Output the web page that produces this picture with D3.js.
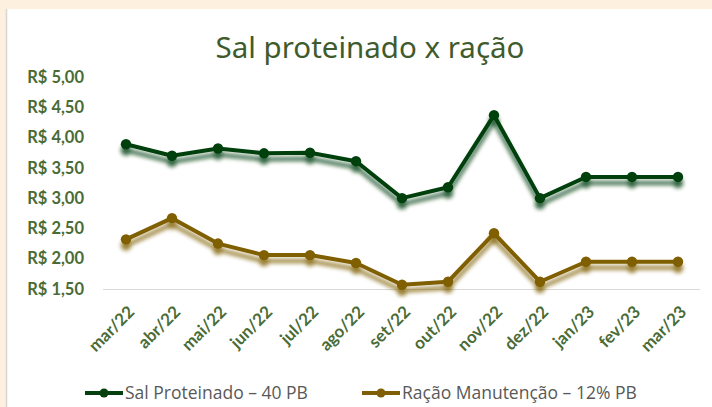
<!DOCTYPE html>
<html>
<head>
<meta charset="utf-8">
<script src="https://cdn.jsdelivr.net/npm/d3@7"></script>
<style>
  html, body { margin: 0; padding: 0; background: #fdf0df; }
  svg { display: block; }
</style>
</head>
<body>
<svg id="chart" width="712" height="407"></svg>
<script>
const categories = ["mar/22","abr/22","mai/22","jun/22","jul/22","ago/22","set/22","out/22","nov/22","dez/22","jan/23","fev/23","mar/23"];
const salProteinado = [3.89, 3.70, 3.82, 3.74, 3.75, 3.61, 3.00, 3.18, 4.37, 3.00, 3.35, 3.35, 3.35];
const racaoManutencao = [2.32, 2.67, 2.25, 2.06, 2.06, 1.93, 1.57, 1.62, 2.42, 1.62, 1.95, 1.95, 1.95];
const yTicks = [1.5, 2.0, 2.5, 3.0, 3.5, 4.0, 4.5, 5.0];
const seriesNames = ["Sal Proteinado – 40 PB", "Ração Manutenção – 12% PB"];
const seriesColors = ["#06400f", "#7f5e06"];

const svg = d3.select("#chart");
// panel
svg.append("rect").attr("x", 7).attr("y", 9).attr("width", 705).attr("height", 398).attr("fill", "#ffffff");
svg.append("line").attr("x1", 6.5).attr("x2", 6.5).attr("y1", 9).attr("y2", 407).attr("stroke", "#d9d6d2").attr("stroke-width", 1.5);

const defs = svg.append("defs");
const f = defs.append("filter").attr("id", "shadow").attr("x", "-10%").attr("y", "-30%").attr("width", "120%").attr("height", "160%");
f.append("feGaussianBlur").attr("in", "SourceGraphic").attr("stdDeviation", 2).attr("result", "b");
f.append("feOffset").attr("in", "b").attr("dx", 0).attr("dy", 6).attr("result", "o");
f.append("feComponentTransfer").attr("in", "o").attr("result", "t")
  .append("feFuncA").attr("type", "linear").attr("slope", 0.8);
const m = f.append("feMerge");
m.append("feMergeNode").attr("in", "t");
m.append("feMergeNode").attr("in", "SourceGraphic");

svg.append("text").attr("x", 370).attr("y", 58).attr("text-anchor", "middle")
  .attr("font-family", "Noto Sans").attr("font-size", 29.5).attr("fill", "#3f5b2e")
  .text("Sal proteinado x ração");

const x = d3.scalePoint().domain(categories).range([126, 678]);
const y = d3.scaleLinear().domain([1.5, 5.0]).range([289, 77]);

const fmt = v => "R$ " + d3.format(".2f")(v).replace(".", ",");

// y axis labels
const yAxis = d3.axisLeft(y).tickValues(yTicks).tickFormat(fmt).tickSize(0).tickPadding(0);
const yg = svg.append("g").attr("transform", "translate(84,0)").call(yAxis);
yg.select(".domain").remove();
yg.selectAll("text").attr("font-family", "Lato").attr("font-weight", "bold").attr("font-size", 16.5).attr("fill", "#4a6b35");

// x axis
const xAxis = d3.axisBottom(x).tickSize(0).tickPadding(0);
const xg = svg.append("g").attr("transform", "translate(0,289)").call(xAxis);
xg.select(".domain").remove();
svg.append("line").attr("x1", 103).attr("x2", 700).attr("y1", 289.5).attr("y2", 289.5).attr("stroke", "#d9d9d9").attr("stroke-width", 1.2);
xg.selectAll("text")
  .attr("font-family", "Lato").attr("font-weight", "bold").attr("font-size", 17).attr("fill", "#4a6b35")
  .attr("text-anchor", "end").attr("dy", 0)
  .attr("transform", "translate(9,24) rotate(-45)");

const line = d3.line().x((d, i) => x(categories[i])).y(d => y(d));
[salProteinado, racaoManutencao].forEach((vals, si) => {
  const g = svg.append("g").attr("filter", "url(#shadow)");
  g.append("path").datum(vals).attr("d", line).attr("fill", "none")
    .attr("stroke", seriesColors[si]).attr("stroke-width", 4).attr("stroke-linejoin", "round");
  g.selectAll("circle").data(vals).enter().append("circle")
    .attr("cx", (d, i) => x(categories[i])).attr("cy", d => y(d)).attr("r", 5.2)
    .attr("fill", seriesColors[si]);
});

// legend
const legendX = [85, 362];
seriesNames.forEach((name, i) => {
  const lg = svg.append("g").attr("transform", `translate(${legendX[i]},393)`);
  lg.append("line").attr("x1", 0).attr("x2", 38).attr("y1", 0).attr("y2", 0)
    .attr("stroke", seriesColors[i]).attr("stroke-width", 4);
  lg.append("circle").attr("cx", 19).attr("cy", 0).attr("r", 4.5).attr("fill", seriesColors[i]);
  lg.append("text").attr("x", 40).attr("y", 0).attr("dy", "0.35em")
    .attr("font-family", "Open Sans").attr("font-size", 17.5).attr("fill", "#595959")
    .text(name);
});
</script>
</body>
</html>
